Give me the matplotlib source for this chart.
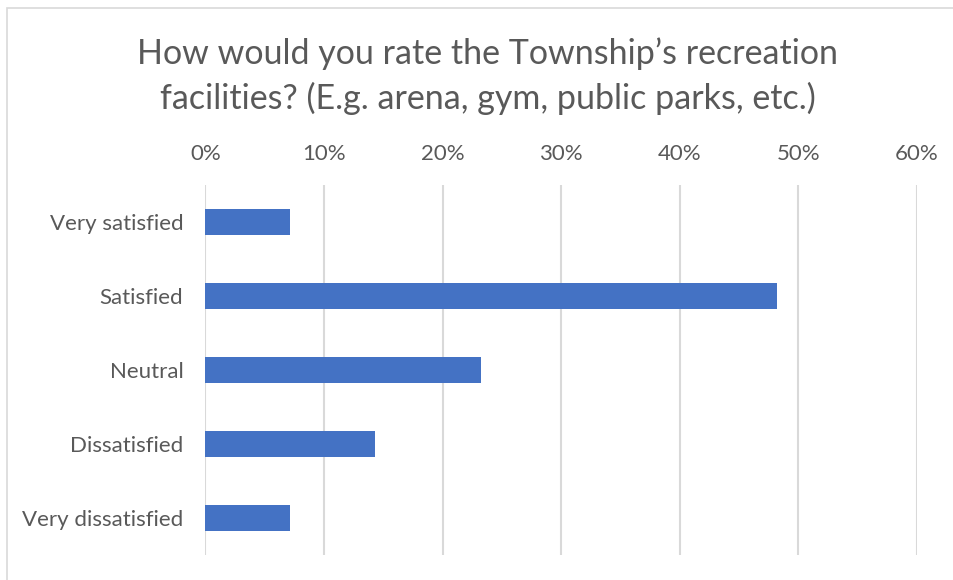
import matplotlib.pyplot as plt
from matplotlib.patches import Rectangle
from matplotlib.ticker import PercentFormatter

categories = ['Very satisfied', 'Satisfied', 'Neutral', 'Dissatisfied', 'Very dissatisfied']
shares = [7.1, 48.2, 23.2, 14.3, 7.1]
ticks = [0, 10, 20, 30, 40, 50, 60]

text_col = '#595959'
bar_col = '#4472C4'
grid_col = '#D9D9D9'

plt.rcParams['font.family'] = ['Lato', 'DejaVu Sans']

fig = plt.figure(figsize=(9.54, 5.80), dpi=100)
ax = fig.add_axes([0.2154, 0.0431, 0.7458, 0.6379])

# chart frame (only top and left edges fall inside the image)
fig.patches.append(Rectangle((7 / 954, -0.1), 1.2, 1 - 8 / 580 + 0.1,
                             transform=fig.transFigure, fill=False,
                             edgecolor=grid_col, linewidth=1.2))

ypos = list(range(len(categories)))
ax.barh(ypos, shares, height=0.35, color=bar_col, zorder=3)

ax.set_xlim(0, 60)
ax.set_ylim(len(categories) - 0.5, -0.5)
ax.set_xticks(ticks)
ax.xaxis.set_major_formatter(PercentFormatter(decimals=0))
ax.xaxis.tick_top()
ax.set_yticks(ypos)
ax.set_yticklabels(categories)
ax.tick_params(axis='both', length=0, labelsize=16, colors=text_col)
ax.tick_params(axis='x', pad=15)
ax.tick_params(axis='y', pad=16)

ax.grid(axis='x', color=grid_col, linewidth=1.5, zorder=0)
for s in ax.spines.values():
    s.set_visible(False)

fig.text(0.511, 0.869, "How would you rate the Township\u2019s recreation\nfacilities? (E.g. arena, gym, public parks, etc.)",
         ha='center', va='center', fontsize=24.5, color=text_col, linespacing=1.45)

fig.savefig('out.png', dpi=100)
